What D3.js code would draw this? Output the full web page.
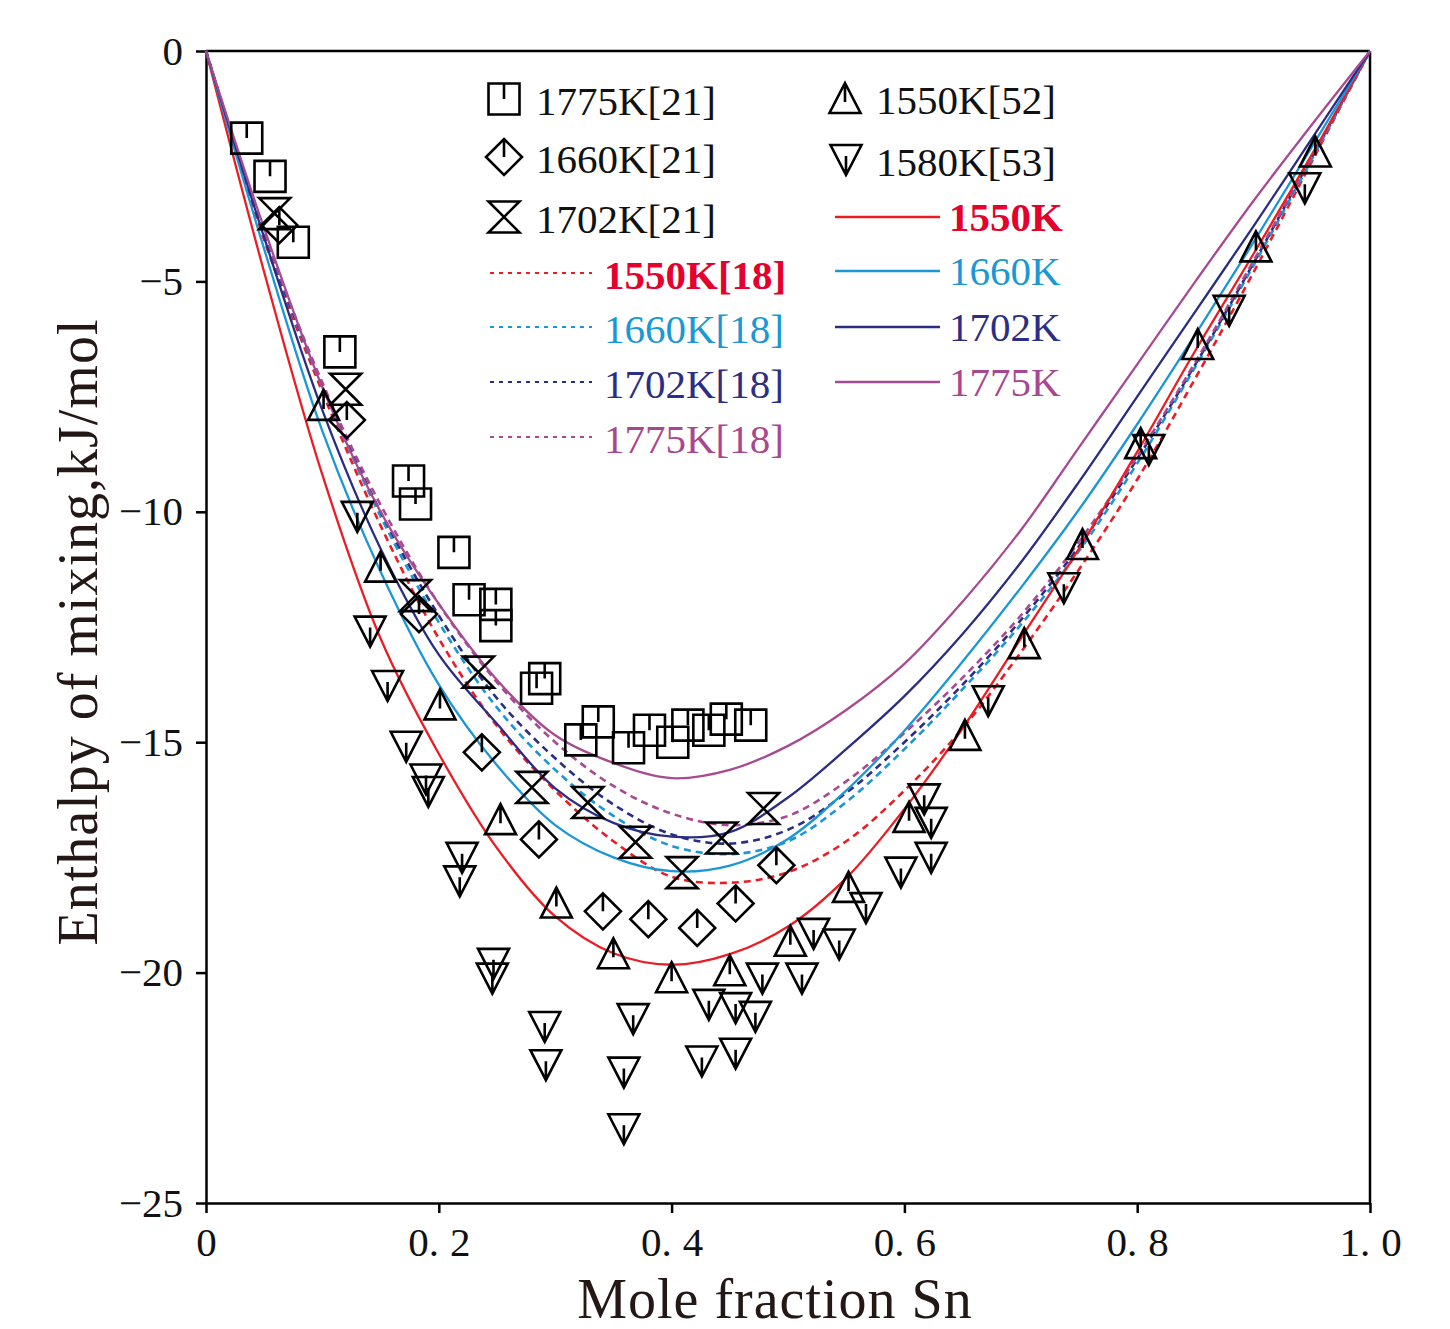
<!DOCTYPE html>
<html><head><meta charset="utf-8">
<script src="https://cdn.jsdelivr.net/npm/d3@7/dist/d3.min.js"></script>
<style>
body{margin:0;background:#fff}
text{font-family:"Liberation Serif","DejaVu Serif","Times New Roman",serif}
</style>
</head><body>
<svg id="chart" width="1450" height="1329"></svg>
<script>
// ---------- data ----------
const xGrid = [0,0.05,0.1,0.15,0.2,0.25,0.3,0.35,0.4,0.45,0.5,0.55,0.6,0.65,0.7,0.75,0.8,0.85,0.9,0.95,1];
// this work (solid)
const calc1550 = [0,-4.8,-9.2,-12.75,-15.25,-17.3,-18.78,-19.58,-19.83,-19.6,-19.0,-17.95,-16.45,-14.7,-12.75,-10.8,-8.7,-6.5,-4.4,-2.25,0];
const calc1660 = [0,-4.3,-8.25,-11.3,-13.75,-15.5,-16.8,-17.5,-17.8,-17.68,-17.1,-16.05,-14.75,-13.25,-11.65,-9.95,-8.1,-6.15,-4.15,-2.08,0];
const calc1702 = [0,-4.05,-7.8,-10.8,-13.1,-14.6,-16.0,-16.75,-17.05,-16.95,-16.2,-15.15,-14.0,-12.65,-11.1,-9.35,-7.5,-5.65,-3.8,-1.9,0];
const calc1775 = [0,-3.85,-7.3,-10.0,-12.0,-13.65,-14.85,-15.45,-15.78,-15.6,-15.08,-14.3,-13.3,-11.95,-10.4,-8.6,-6.8,-5.0,-3.25,-1.6,0];
// ref [18] (dashed)
const ref1550 = [0,-4.1,-7.4,-10.3,-12.75,-14.65,-16.05,-17.15,-17.92,-18.05,-17.82,-17.15,-16.05,-14.7,-13.05,-11.25,-9.3,-7.1,-4.8,-2.4,0];
const ref1660 = [0,-4.0,-7.3,-10.1,-12.4,-14.25,-15.6,-16.6,-17.25,-17.43,-17.15,-16.3,-15.15,-13.85,-12.45,-10.85,-8.95,-6.85,-4.65,-2.35,0];
const ref1702 = [0,-4.0,-7.25,-10.0,-12.25,-14.05,-15.35,-16.35,-17.0,-17.2,-16.9,-16.1,-15.0,-13.75,-12.35,-10.75,-8.85,-6.8,-4.6,-2.3,0];
const ref1775 = [0,-3.95,-7.2,-9.85,-12.0,-13.7,-15.0,-15.95,-16.55,-16.8,-16.6,-15.85,-14.8,-13.6,-12.25,-10.65,-8.8,-6.75,-4.55,-2.3,0];

// experimental points [x, ΔH]
const exp1775_21 = [[0.035,-1.89],[0.055,-2.72],[0.075,-4.15],[0.115,-6.53],[0.174,-9.33],[0.180,-9.83],[0.213,-10.88],[0.226,-11.91],[0.249,-12.01],[0.249,-12.47],[0.284,-13.83],[0.291,-13.62],[0.322,-14.95],[0.337,-14.56],[0.363,-15.12],[0.381,-14.74],[0.401,-15.00],[0.414,-14.63],[0.432,-14.74],[0.447,-14.50],[0.468,-14.63]];
const exp1660_21 = [[0.063,-3.78],[0.121,-8.01],[0.183,-12.22],[0.237,-15.22],[0.286,-17.11],[0.341,-18.67],[0.380,-18.84],[0.422,-19.03],[0.455,-18.50],[0.490,-17.67]];
const exp1702_21 = [[0.059,-3.53],[0.120,-7.34],[0.180,-11.82],[0.234,-13.48],[0.280,-15.98],[0.328,-16.31],[0.369,-17.17],[0.409,-17.83],[0.443,-17.08],[0.479,-16.44]];
const exp1550_52 = [[0.101,-7.68],[0.150,-11.19],[0.201,-14.18],[0.253,-16.67],[0.301,-18.48],[0.350,-19.58],[0.400,-20.10],[0.450,-19.95],[0.502,-19.31],[0.552,-18.14],[0.604,-16.62],[0.652,-14.84],[0.703,-12.85],[0.753,-10.70],[0.803,-8.51],[0.852,-6.36],[0.902,-4.24],[0.953,-2.18]];
const exp1580_53 = [[0.130,-10.11],[0.141,-12.60],[0.156,-13.78],[0.172,-15.10],[0.189,-15.81],[0.191,-16.08],[0.220,-17.51],[0.218,-18.02],[0.247,-19.81],[0.246,-20.13],[0.291,-21.18],[0.292,-22.01],[0.359,-22.17],[0.359,-23.40],[0.367,-21.01],[0.426,-21.93],[0.432,-20.70],[0.455,-20.77],[0.455,-21.76],[0.472,-20.96],[0.478,-20.13],[0.512,-20.13],[0.522,-19.16],[0.544,-19.39],[0.567,-18.60],[0.597,-17.83],[0.617,-16.24],[0.623,-16.75],[0.623,-17.51],[0.672,-14.11],[0.737,-11.66],[0.810,-8.66],[0.879,-5.64],[0.944,-2.98]];

const xTicks = [0,0.2,0.4,0.6,0.8,1.0];
const xTickLabels = ["0","0.2","0.4","0.6","0.8","1.0"];
const yTicks = [0,-5,-10,-15,-20,-25];
const yTickLabels = ["0","\u22125","\u221210","\u221215","\u221220","\u221225"];

const legendSymbols = ["1775K[21]","1660K[21]","1702K[21]","1550K[52]","1580K[53]"];
const legendDashed = ["1550K[18]","1660K[18]","1702K[18]","1775K[18]"];
const legendSolid = ["1550K","1660K","1702K","1775K"];

// ---------- drawing ----------
const C = {red:"#ec1c24", blue:"#1b96d6", navy:"#2b2d84", purple:"#a84a91"};
const textC = {red:"#e5002d", blue:"#1a98d5", navy:"#2b2e83", purple:"#a84790"};

const svg = d3.select("#chart");
const x = d3.scaleLinear().domain([0,1]).range([206,1370]);
const y = d3.scaleLinear().domain([-25,0]).range([1203,51]);

// frame top/right
svg.append("line").attr("x1",x(0)).attr("x2",x(1)).attr("y1",y(0)).attr("y2",y(0)).attr("stroke","#000").attr("stroke-width",2.5);
svg.append("line").attr("x1",x(1)).attr("x2",x(1)).attr("y1",y(0)).attr("y2",y(-25)).attr("stroke","#000").attr("stroke-width",2.5);

const gx = svg.append("g").attr("transform",`translate(0,${y(-25)})`)
  .call(d3.axisBottom(x).tickValues(xTicks).tickSize(10).tickSizeOuter(0).tickPadding(14).tickFormat((d,i)=>xTickLabels[i]));
const gy = svg.append("g").attr("transform",`translate(${x(0)},0)`)
  .call(d3.axisLeft(y).tickValues(yTicks).tickSize(10).tickSizeOuter(0).tickPadding(13).tickFormat((d,i)=>yTickLabels[i]));
[gx,gy].forEach(g=>{
  g.selectAll("path,line").attr("stroke","#000").attr("stroke-width",2.5);
  g.selectAll("text").attr("font-size",41).attr("fill","#111").attr("font-family",null);
});
// x labels: wide gap after the decimal point
gx.selectAll(".tick text").each(function(d,i){
  const s = xTickLabels[i];
  const t = d3.select(this).text(null);
  if (s.indexOf(".")<0){ t.text(s); return; }
  const parts = s.split(".");
  t.append("tspan").text(parts[0]+".");
  t.append("tspan").attr("dx",11).text(parts[1]);
});

// axis titles
svg.append("text").attr("x",775).attr("y",1318).attr("text-anchor","middle")
  .attr("font-size",56).attr("letter-spacing",1).attr("fill","#231815").text("Mole fraction Sn");
svg.append("text").attr("transform","translate(97,632) rotate(-90)").attr("text-anchor","middle")
  .attr("font-size",56).attr("letter-spacing",1).attr("fill","#231815").text("Enthalpy of mixing,kJ/mol");

// curves
const line = d3.line().x(d=>x(d[0])).y(d=>y(d[1])).curve(d3.curveCatmullRom.alpha(0.5));
const zip = arr => xGrid.map((v,i)=>[v,arr[i]]);
const curves = [
  {v:ref1550,c:C.red,dash:true},{v:ref1660,c:C.blue,dash:true},{v:ref1702,c:C.navy,dash:true},{v:ref1775,c:C.purple,dash:true},
  {v:calc1550,c:C.red,dash:false},{v:calc1660,c:C.blue,dash:false},{v:calc1702,c:C.navy,dash:false},{v:calc1775,c:C.purple,dash:false}
];
curves.forEach(cv=>{
  svg.append("path").datum(zip(cv.v)).attr("d",line).attr("fill","none")
    .attr("stroke",cv.c).attr("stroke-width",cv.dash?2.6:2.3)
    .attr("stroke-dasharray",cv.dash?"7,5":null);
});

// markers
const S = 15.5;
const shapes = {
  square:`M${-S},${-S}H${S}V${S}H${-S}Z M0,${-S}V0`,
  diamond:`M0,-18L18,0L0,18L-18,0Z M0,-18V0`,
  hour:`M${-S},${-S}H${S}L${-S},${S}H${S}Z`,
  up:`M0,-15L${S},15H${-S}Z M0,-15V4`,
  down:`M${-S},-15H${S}L0,15Z M0,-4V15`
};
const sets = [
  {d:exp1775_21,s:"square"},{d:exp1660_21,s:"diamond"},{d:exp1702_21,s:"hour"},
  {d:exp1550_52,s:"up"},{d:exp1580_53,s:"down"}
];
sets.forEach(st=>{
  svg.append("g").selectAll("path").data(st.d).join("path")
    .attr("transform",d=>`translate(${x(d[0])},${y(d[1])})`)
    .attr("d",shapes[st.s]).attr("fill","none").attr("stroke","#000").attr("stroke-width",2.6);
});

// legend
const lg = svg.append("g");
const symPos = [[504,99,"square"],[504,157,"diamond"],[504,217,"hour"],[845,98,"up"],[846,160,"down"]];
legendSymbols.forEach((t,i)=>{
  const p = symPos[i];
  lg.append("path").attr("transform",`translate(${p[0]},${p[1]})`).attr("d",shapes[p[2]])
    .attr("fill","none").attr("stroke","#000").attr("stroke-width",2.6);
  lg.append("text").attr("x",i<3?536:876).attr("y",p[1]+16).attr("font-size",41).attr("fill","#111").text(t);
});
const dashCols = [C.red,C.blue,C.navy,C.purple];
const dashTxt = [textC.red,textC.blue,textC.navy,textC.purple];
const dashY = [273,327,382,437];
legendDashed.forEach((t,i)=>{
  lg.append("line").attr("x1",490).attr("x2",592).attr("y1",dashY[i]).attr("y2",dashY[i])
    .attr("stroke",dashCols[i]).attr("stroke-width",2).attr("stroke-dasharray","4,5");
  lg.append("text").attr("x",604).attr("y",dashY[i]+16).attr("font-size",41)
    .attr("font-weight",i===0?"bold":null).attr("fill",dashTxt[i]).text(t);
});
const solidY = [217,271,327,382];
legendSolid.forEach((t,i)=>{
  lg.append("line").attr("x1",835).attr("x2",940).attr("y1",solidY[i]).attr("y2",solidY[i])
    .attr("stroke",dashCols[i]).attr("stroke-width",2.3);
  lg.append("text").attr("x",949).attr("y",solidY[i]+14).attr("font-size",41)
    .attr("font-weight",i===0?"bold":null).attr("fill",dashTxt[i]).text(t);
});
</script>
</body></html>
